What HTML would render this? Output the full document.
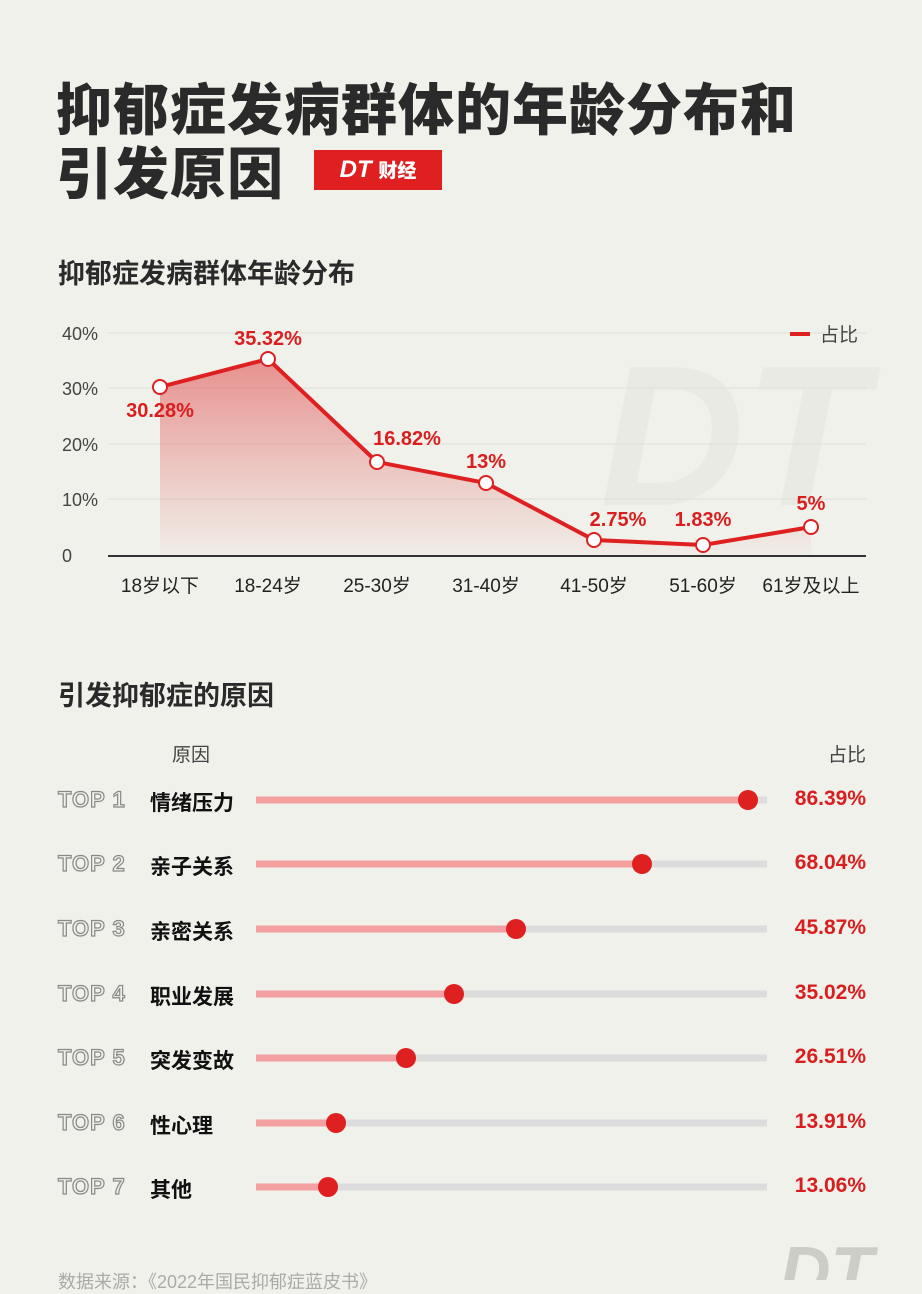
<!DOCTYPE html>
<html><head><meta charset="utf-8"><style>
body{margin:0;width:922px;height:1280px;background:#f1f1eb;overflow:hidden;font-family:"Liberation Sans","Noto Sans CJK SC",sans-serif;position:relative}
.a{position:absolute;white-space:nowrap}
.t{font-size:56px;font-weight:900;color:#2a2a2a;left:56px;letter-spacing:1px}
.h{font-size:27px;font-weight:700;color:#2a2a2a;left:58px}
.top{left:58px;font-size:22px;font-weight:900;color:#f1f1eb;-webkit-text-stroke:1.2px #888;letter-spacing:1px}
.nm{left:150px;font-size:21px;font-weight:700;color:#111}
.pc{right:56px;font-size:21px;font-weight:700;color:#d81e1e}
</style></head><body>
<div class="a t" style="top:66px">抑郁症发病群体的年龄分布和</div>
<div class="a t" style="top:130px">引发原因</div>
<div class="a" style="left:314px;top:150px;width:128px;height:40px;background:#e02020;color:#fff;font-weight:900;font-size:24px;line-height:40px;text-align:center"><i>DT</i> <span style="font-size:19px">财经</span></div>
<div class="a h" style="top:252px">抑郁症发病群体年龄分布</div>
<svg class="a" style="left:0;top:0" width="922" height="1280">
<defs><linearGradient id="g" x1="0" y1="0" x2="0" y2="1"><stop offset="0" stop-color="#e05050" stop-opacity=".6"/><stop offset="1" stop-color="#e06060" stop-opacity="0.03"/></linearGradient></defs>
<text x="600" y="505" font-size="200" font-weight="900" font-style="italic" fill="#eaeae4" font-family="Liberation Sans">DT</text>
<g stroke="#deded8" stroke-width="1"><line x1="108" x2="866" y1="333" y2="333"/><line x1="108" x2="866" y1="388" y2="388"/><line x1="108" x2="866" y1="444" y2="444"/><line x1="108" x2="866" y1="499" y2="499"/></g>
<line x1="108" x2="866" y1="556" y2="556" stroke="#333" stroke-width="2"/>
<g font-size="18" fill="#444" text-anchor="end" font-family="Liberation Sans"><text x="98" y="340">40%</text><text x="98" y="395">30%</text><text x="98" y="451">20%</text><text x="98" y="506">10%</text><text x="72" y="562">0</text></g>
<polygon points="160,387 268,359 377,462 486,483 594,540 703,545 811,527 811,555 160,555" fill="url(#g)"/>
<polyline points="160,387 268,359 377,462 486,483 594,540 703,545 811,527" fill="none" stroke="#de2020" stroke-width="4"/>
<g fill="#fff" stroke="#de2020" stroke-width="2"><circle cx="160" cy="387" r="7"/><circle cx="268" cy="359" r="7"/><circle cx="377" cy="462" r="7"/><circle cx="486" cy="483" r="7"/><circle cx="594" cy="540" r="7"/><circle cx="703" cy="545" r="7"/><circle cx="811" cy="527" r="7"/></g>
<g font-size="20" font-weight="700" fill="#d81e1e" text-anchor="middle" font-family="Liberation Sans"><text x="160" y="417">30.28%</text><text x="268" y="345">35.32%</text><text x="407" y="445">16.82%</text><text x="486" y="468">13%</text><text x="618" y="526">2.75%</text><text x="703" y="526">1.83%</text><text x="811" y="510">5%</text></g>
<line x1="790" x2="810" y1="334" y2="334" stroke="#de2020" stroke-width="4"/>
<text x="820" y="341" font-size="19" fill="#444">占比</text>
<g font-size="19" fill="#222" text-anchor="middle"><text x="160" y="592">18岁以下</text><text x="268" y="592">18-24岁</text><text x="377" y="592">25-30岁</text><text x="486" y="592">31-40岁</text><text x="594" y="592">41-50岁</text><text x="703" y="592">51-60岁</text><text x="811" y="592">61岁及以上</text></g>
<g stroke-width="7" stroke-linecap="butt">
<line x1="256" x2="767" y1="800" y2="800" stroke="#dcdcdc"/><line x1="256" x2="748" y1="800" y2="800" stroke="#f4a0a0"/>
<line x1="256" x2="767" y1="864" y2="864" stroke="#dcdcdc"/><line x1="256" x2="642" y1="864" y2="864" stroke="#f4a0a0"/>
<line x1="256" x2="767" y1="929" y2="929" stroke="#dcdcdc"/><line x1="256" x2="516" y1="929" y2="929" stroke="#f4a0a0"/>
<line x1="256" x2="767" y1="994" y2="994" stroke="#dcdcdc"/><line x1="256" x2="454" y1="994" y2="994" stroke="#f4a0a0"/>
<line x1="256" x2="767" y1="1058" y2="1058" stroke="#dcdcdc"/><line x1="256" x2="406" y1="1058" y2="1058" stroke="#f4a0a0"/>
<line x1="256" x2="767" y1="1123" y2="1123" stroke="#dcdcdc"/><line x1="256" x2="336" y1="1123" y2="1123" stroke="#f4a0a0"/>
<line x1="256" x2="767" y1="1187" y2="1187" stroke="#dcdcdc"/><line x1="256" x2="328" y1="1187" y2="1187" stroke="#f4a0a0"/>
</g>
<g fill="#de2020"><circle cx="748" cy="800" r="10"/><circle cx="642" cy="864" r="10"/><circle cx="516" cy="929" r="10"/><circle cx="454" cy="994" r="10"/><circle cx="406" cy="1058" r="10"/><circle cx="336" cy="1123" r="10"/><circle cx="328" cy="1187" r="10"/></g>
<text x="780" y="1295" font-size="70" font-weight="900" font-style="italic" fill="#cdcdc8" font-family="Liberation Sans">DT</text>
</svg>
<div class="a h" style="top:674px">引发抑郁症的原因</div>
<div class="a" style="left:172px;top:740px;font-size:19px;color:#444">原因</div>
<div class="a" style="right:56px;top:740px;font-size:19px;color:#444">占比</div>
<div class="a top" style="top:787px">TOP 1</div><div class="a nm" style="top:787px">情绪压力</div><div class="a pc" style="top:787px">86.39%</div>
<div class="a top" style="top:851px">TOP 2</div><div class="a nm" style="top:851px">亲子关系</div><div class="a pc" style="top:851px">68.04%</div>
<div class="a top" style="top:916px">TOP 3</div><div class="a nm" style="top:916px">亲密关系</div><div class="a pc" style="top:916px">45.87%</div>
<div class="a top" style="top:981px">TOP 4</div><div class="a nm" style="top:981px">职业发展</div><div class="a pc" style="top:981px">35.02%</div>
<div class="a top" style="top:1045px">TOP 5</div><div class="a nm" style="top:1045px">突发变故</div><div class="a pc" style="top:1045px">26.51%</div>
<div class="a top" style="top:1110px">TOP 6</div><div class="a nm" style="top:1110px">性心理</div><div class="a pc" style="top:1110px">13.91%</div>
<div class="a top" style="top:1174px">TOP 7</div><div class="a nm" style="top:1174px">其他</div><div class="a pc" style="top:1174px">13.06%</div>
<div class="a" style="left:58px;top:1268px;font-size:18px;color:#aaa">数据来源：《2022年国民抑郁症蓝皮书》</div>
</body></html>
